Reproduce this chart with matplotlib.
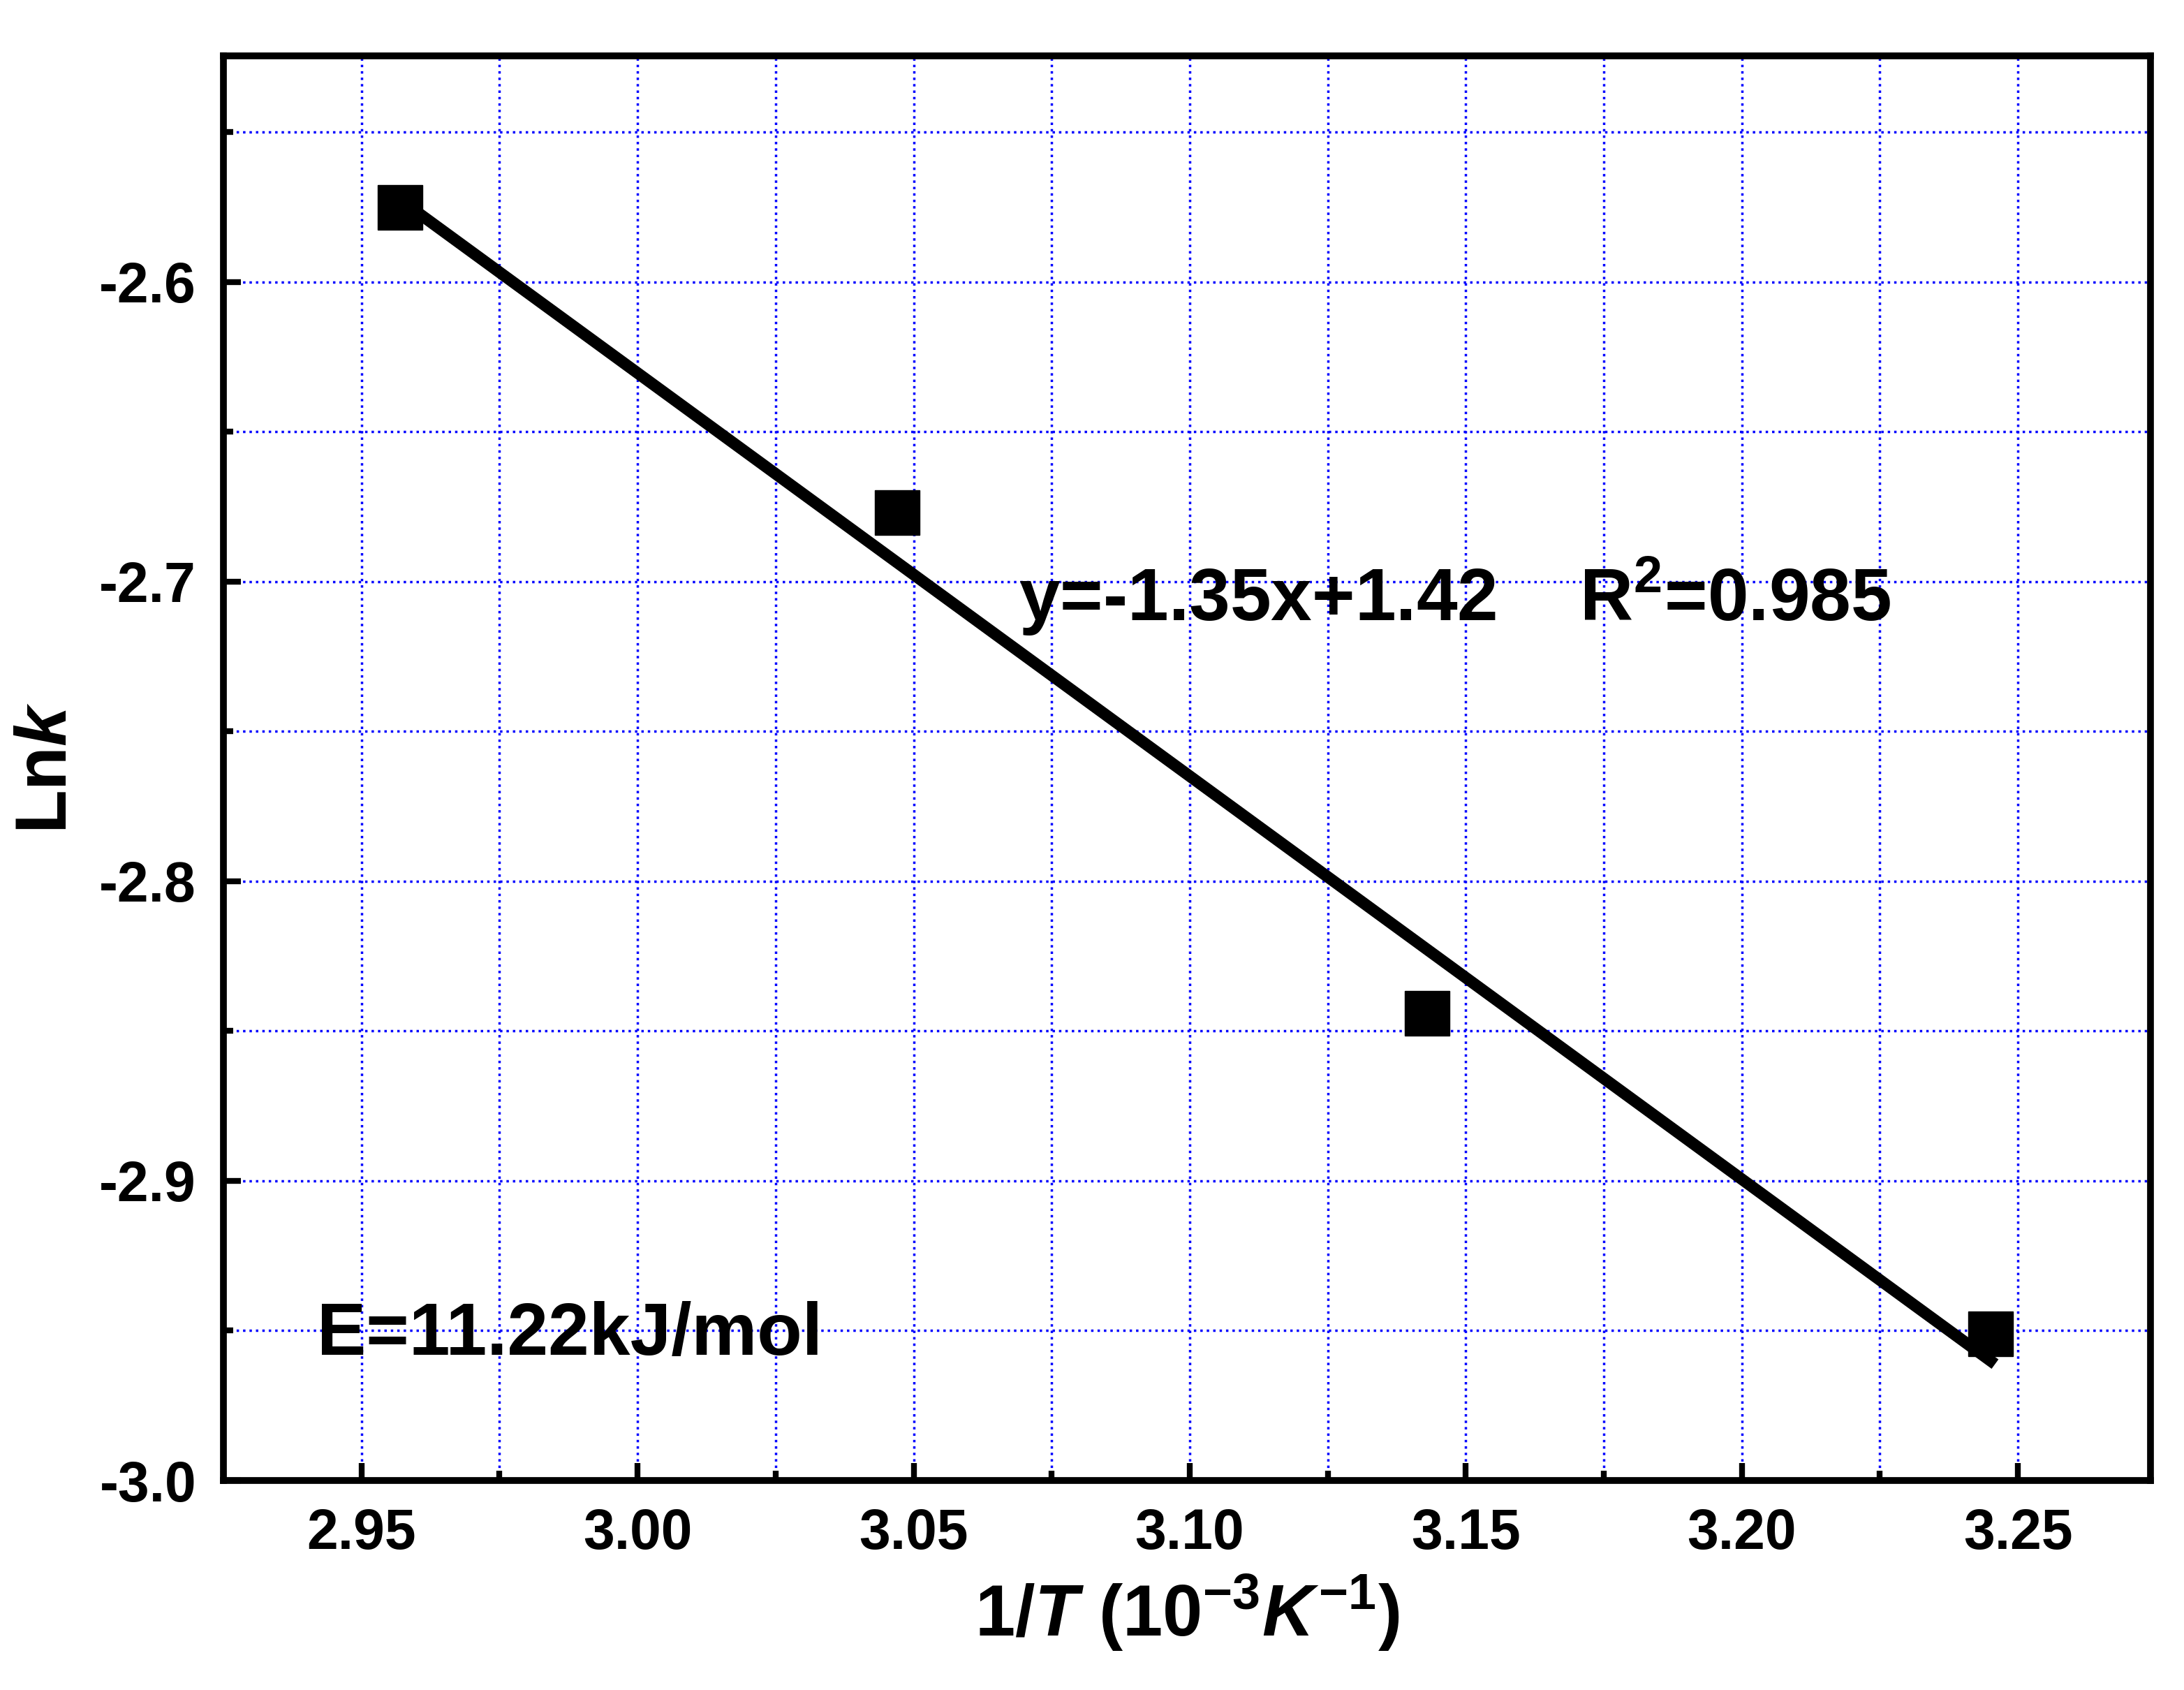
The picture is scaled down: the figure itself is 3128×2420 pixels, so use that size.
import matplotlib
matplotlib.use("Agg")
import matplotlib.pyplot as plt
from matplotlib.ticker import MultipleLocator

x_pts = [2.957, 3.047, 3.143, 3.245]
y_pts = [-2.575, -2.677, -2.844, -2.951]
fit_x = [2.957, 3.245]
fit_y = [-2.5725, -2.960]

plt.rcParams['font.family'] = ['Liberation Sans', 'DejaVu Sans']
plt.rcParams['font.weight'] = 'bold'
plt.rcParams['mathtext.fontset'] = 'custom'
plt.rcParams['mathtext.it'] = 'Liberation Sans:italic:bold'
plt.rcParams['mathtext.rm'] = 'Liberation Sans:bold'

fig = plt.figure(figsize=(31.28, 24.2), dpi=100)
ax = fig.add_axes([160/1564, 1 - 1060/1210, 1380/1564, 1020/1210])
ax.plot(fit_x, fit_y, color='black', lw=12, zorder=3)
ax.plot(x_pts, y_pts, 's', color='black', ms=46, zorder=4)
ax.set_xlim(2.925, 3.274)
ax.set_ylim(-3.0, -2.5245)
ax.xaxis.set_major_locator(MultipleLocator(0.05))
ax.xaxis.set_minor_locator(MultipleLocator(0.025))
ax.yaxis.set_major_locator(MultipleLocator(0.1))
ax.yaxis.set_minor_locator(MultipleLocator(0.05))
ax.xaxis.set_major_formatter(matplotlib.ticker.FormatStrFormatter('%.2f'))
ax.yaxis.set_major_formatter(matplotlib.ticker.FormatStrFormatter('%.1f'))
ax.grid(which='both', color='blue', ls=':', lw=2.5)
ax.tick_params(which='major', direction='in', length=18, width=6, labelsize=58, pad=28)
ax.tick_params(which='minor', direction='in', length=10, width=6)
for s in ax.spines.values():
    s.set_linewidth(7)
ax.set_xlabel(r'1/$T$ (10$^{-3}$$K^{-1}$)', fontsize=74, fontweight='bold', labelpad=12)
ax.set_ylabel(r'Ln$k$', fontsize=74, fontweight='bold', labelpad=18)
ax.text(3.069, -2.713, r'y=-1.35x+1.42    R$^2$=0.985', fontsize=76, fontweight='bold')
ax.text(2.942, -2.958, 'E=11.22kJ/mol', fontsize=76, fontweight='bold')
fig.savefig('out.png', dpi=100)
